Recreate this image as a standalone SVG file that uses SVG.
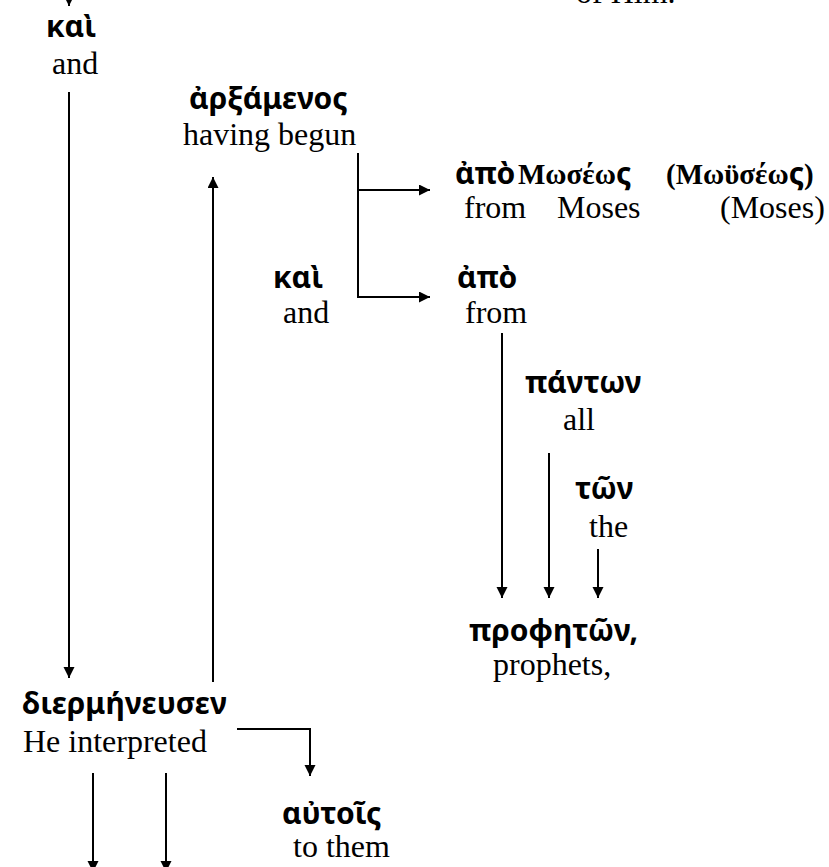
<svg xmlns="http://www.w3.org/2000/svg" width="829" height="867" viewBox="0 0 829 867">
<defs>
<marker id="ah" markerUnits="userSpaceOnUse" markerWidth="12" markerHeight="12" refX="11" refY="5.5" orient="auto">
<path d="M0,0 L11,5.5 L0,11 z" fill="#000"/>
</marker>
<style>
.gk{font-family:"Noto Sans","DejaVu Sans",sans-serif;font-weight:bold;font-size:30px;fill:#000}
.gs{font-family:"Liberation Serif","Times New Roman",serif;font-weight:bold;font-size:29px;fill:#000}
.en{font-family:"Liberation Serif","Times New Roman",serif;font-size:32px;fill:#000}
.c{stroke:#000;stroke-width:2;fill:none}
.a{marker-end:url(#ah)}
</style>
</defs>
<rect width="829" height="867" fill="#fff"/>
<g id="connectors">
<line class="c a" x1="69" y1="-20" x2="69" y2="6"/>
<line class="c a" x1="69" y1="92" x2="69" y2="678"/>
<line class="c a" x1="213" y1="682" x2="213" y2="177"/>
<line class="c" x1="358" y1="153" x2="358" y2="298"/>
<line class="c a" x1="357" y1="190" x2="430" y2="190"/>
<line class="c a" x1="357" y1="297" x2="430" y2="297"/>
<line class="c a" x1="502" y1="333" x2="502" y2="598"/>
<line class="c a" x1="549" y1="453" x2="549" y2="598"/>
<line class="c a" x1="598" y1="549" x2="598" y2="598"/>
<polyline class="c a" points="237,729 310,729 310,776"/>
<line class="c a" x1="93" y1="773" x2="93" y2="872"/>
<line class="c a" x1="166" y1="773" x2="166" y2="872"/>
</g>
<g id="n_ofhim"><text class="en" x="576" y="3">of Him.</text></g>
<g id="n_kai1"><text class="gk" x="46" y="37">καὶ</text><text class="en" x="52" y="74">and</text></g>
<g id="n_arxamenos"><text class="gk" x="189" y="109">ἀρξάμενος</text><text class="en" x="183" y="145">having begun</text></g>
<g id="n_apo_moseos"><text class="gk" x="455" y="184">ἀπὸ</text><text class="gs" x="518" y="184">Μωσέω<tspan class="gk">ς</tspan></text><text class="gs" x="666" y="184">(Μωϋσέω<tspan class="gk">ς</tspan>)</text><text class="en" y="218"><tspan x="464">from</tspan><tspan x="557">Moses</tspan><tspan x="720">(Moses)</tspan></text></g>
<g id="n_kai2"><text class="gk" x="273" y="288">καὶ</text><text class="en" x="283" y="323">and</text></g>
<g id="n_apo2"><text class="gk" x="457" y="288">ἀπὸ</text><text class="en" x="465" y="323">from</text></g>
<g id="n_panton"><text class="gk" x="525" y="393">πάντων</text><text class="en" x="563" y="430">all</text></g>
<g id="n_ton"><text class="gk" x="575" y="499">τῶν</text><text class="en" x="589" y="537">the</text></g>
<g id="n_propheton"><text class="gk" x="469" y="641">προφητῶν,</text><text class="en" x="493" y="675">prophets,</text></g>
<g id="n_diermeneusen"><text class="gk" x="22" y="714">διερμήνευσεν</text><text class="en" x="23" y="752">He interpreted</text></g>
<g id="n_autois"><text class="gk" x="282" y="824">αὐτοῖς</text><text class="en" x="293" y="857">to them</text></g>
</svg>
